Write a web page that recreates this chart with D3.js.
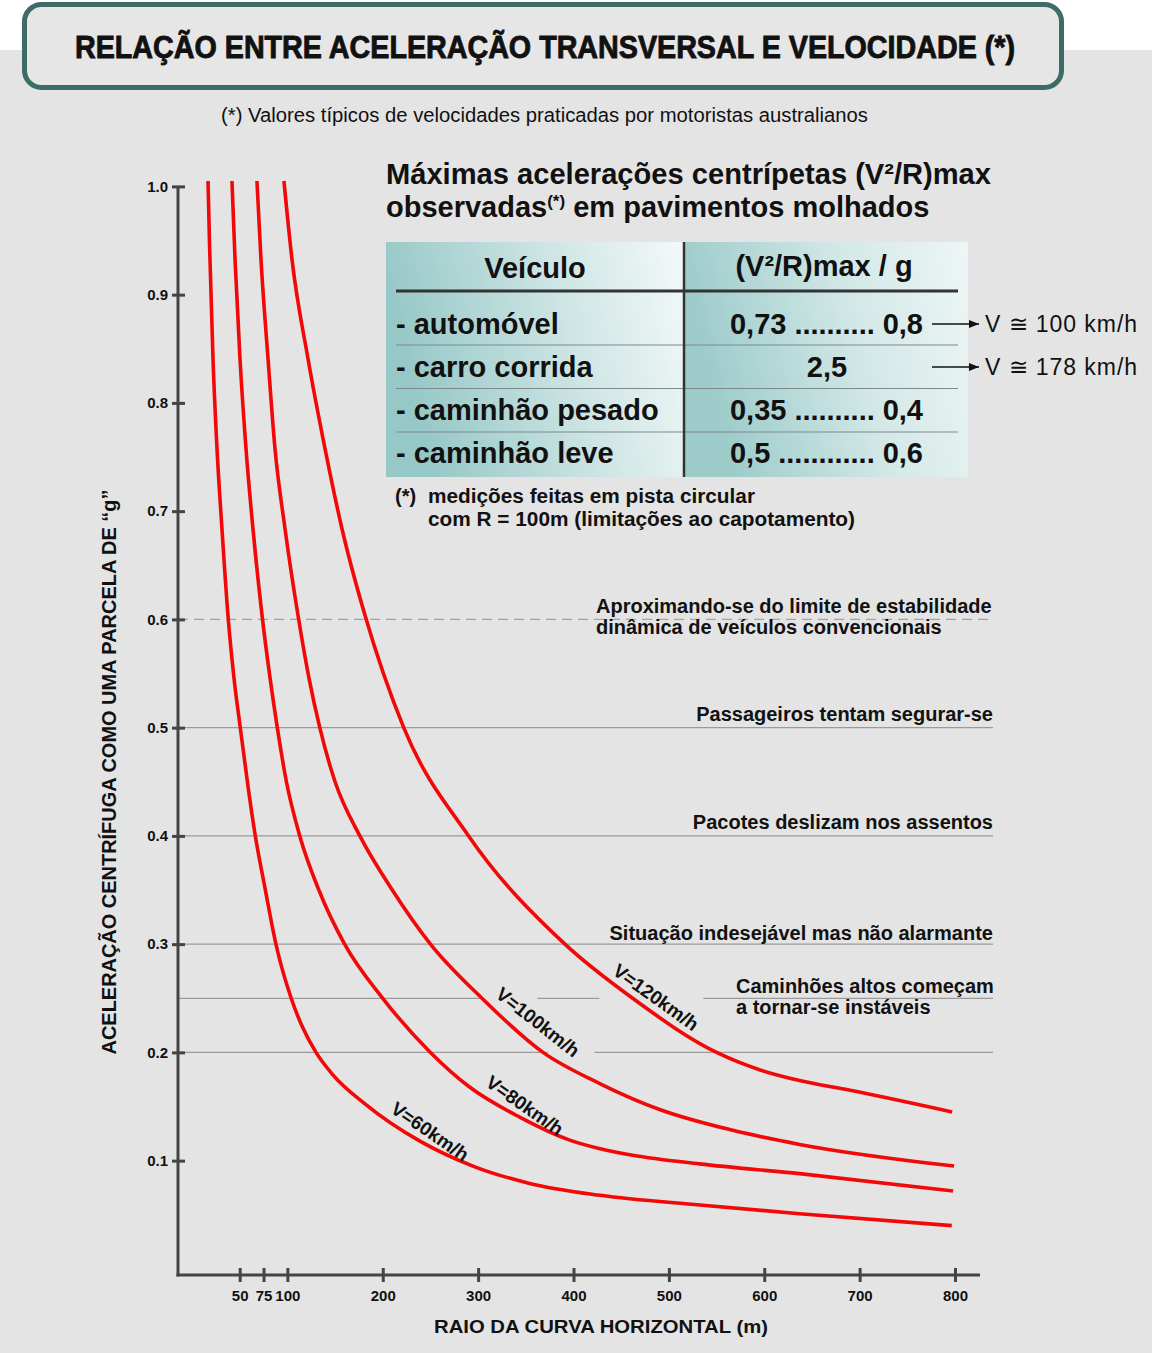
<!DOCTYPE html>
<html><head><meta charset="utf-8">
<script src="https://cdn.jsdelivr.net/npm/d3@7"></script>
<style>
body{margin:0;background:#fff}
svg{display:block}
text{font-family:"Liberation Sans",Arial,Helvetica,sans-serif;fill:#111}
</style>
</head><body>
<svg id="c" width="1152" height="1353"></svg>
<script>
// ---------------- DATA ----------------
const titleText = "RELAÇÃO ENTRE ACELERAÇÃO TRANSVERSAL E VELOCIDADE (*)";
const subtitleText = "(*) Valores típicos de velocidades praticadas por motoristas australianos";
const yAxisTitle = "ACELERAÇÃO CENTRÍFUGA COMO UMA PARCELA DE “g”";
const xAxisTitle = "RAIO DA CURVA HORIZONTAL (m)";
const yTicks = [0.1,0.2,0.3,0.4,0.5,0.6,0.7,0.8,0.9,1.0];
const xTicks = [50,75,100,200,300,400,500,600,700,800];

const speedLabels = ["V=60km/h","V=80km/h","V=100km/h","V=120km/h"];
// [raio (m), aceleração / g]
const v60 = [[16.8,1.005],[18.5,0.943],[22.0,0.841],[26.2,0.758],[31.4,0.684],[37.7,0.604],[44.0,0.546],[50.3,0.502],[59,0.444],[66.0,0.402],[76.5,0.352],[88,0.300],[104,0.250],[115,0.225],[130,0.200],[147,0.180],[182,0.152],[239,0.118],[294.5,0.095],[354,0.079],[427.7,0.068],[532.5,0.059],[637,0.051],[796.6,0.040]];
const v80 = [[41.9,1.005],[45.1,0.933],[50.3,0.841],[56.6,0.758],[63.9,0.684],[73.4,0.604],[81.8,0.546],[89.1,0.502],[99,0.450],[113,0.400],[133,0.350],[160,0.300],[200,0.250],[250,0.200],[291,0.168],[344,0.140],[396,0.119],[428,0.111],[462,0.105],[532,0.097],[637,0.088],[798,0.072]];
const v100 = [[68.1,1.005],[72.3,0.933],[79.7,0.841],[87.0,0.758],[97.5,0.684],[111.1,0.604],[122.6,0.546],[134,0.500],[150,0.450],[176,0.400],[210,0.350],[250,0.300],[304,0.250],[368,0.200],[428,0.171],[491,0.147],[567,0.128],[637,0.115],[799,0.095]];
const v120 = [[96.4,1.005],[104.8,0.933],[121.6,0.841],[139.4,0.758],[157.2,0.684],[181.3,0.604],[222,0.500],[290,0.400],[391,0.300],[462,0.250],[550,0.200],[595,0.184],[637,0.174],[690,0.165],[797,0.145]];

const levelValues = [0.6,0.5,0.4,0.3,0.25,0.2];
const levelTexts = [
  ["Aproximando-se do limite de estabilidade","dinâmica de veículos convencionais"],
  ["Passageiros tentam segurar-se"],
  ["Pacotes deslizam nos assentos"],
  ["Situação indesejável mas não alarmante"],
  ["Caminhões altos começam","a tornar-se instáveis"],
  []
];

const headingLine1 = "Máximas acelerações centrípetas (V²/R)max";
const headingLine2a = "observadas";
const headingLine2sup = "(*)";
const headingLine2b = " em pavimentos molhados";
const tableHeaders = ["Veículo","(V²/R)max / g"];
const vehicles = ["- automóvel","- carro corrida","- caminhão pesado","- caminhão leve"];
const ratios = ["0,73 .......... 0,8","2,5","0,35 .......... 0,4","0,5 ............ 0,6"];
const speedNotes = ["V ≅ 100 km/h","V ≅ 178 km/h"];
const footnote = ["(*)","medições feitas em pista circular","com R = 100m (limitações ao capotamento)"];

// ---------------- LAYOUT ----------------
const svg = d3.select("#c");
const W = 1152, H = 1353;
const AX = 178, AY = 1275, RIGHT = 993;
const x = d3.scaleLinear().domain([0,800]).range([192,955]);
const y = d3.scaleLinear().domain([0,1]).range([1268.9,186.4]);
const RED = "#f20808";
const AXC = "#444";

svg.append("rect").attr("width",W).attr("height",H).attr("fill","#ffffff");
svg.append("rect").attr("y",50).attr("width",W).attr("height",H-50).attr("fill","#e4e4e4");

// title box
svg.append("rect").attr("x",24.5).attr("y",4.5).attr("width",1037).attr("height",83)
  .attr("rx",17).attr("fill","#e6e6e6").attr("stroke","#3d6b68").attr("stroke-width",5);
svg.append("text").attr("x",75).attr("y",58)
  .attr("textLength",940).attr("lengthAdjust","spacingAndGlyphs")
  .style("font-weight","bold").style("font-size","32px")
  .style("stroke","#111").style("stroke-width","0.9px").text(titleText);

svg.append("text").attr("x",221).attr("y",122)
  .attr("textLength",647).attr("lengthAdjust","spacingAndGlyphs")
  .style("font-size","20px").text(subtitleText);

// gridlines
const gaps = {0.25: [[305,362],[427,536]], 0.2: [[373,422]]};
const gridG = svg.append("g");
levelValues.forEach(v => {
  const segs = [];
  let start = AX;
  (gaps[v]||[]).forEach(g => { segs.push([start, x(g[0])]); start = x(g[1]); });
  segs.push([start, RIGHT]);
  segs.forEach(s => {
    gridG.append("line").attr("x1",s[0]).attr("x2",s[1]).attr("y1",y(v)).attr("y2",y(v))
      .attr("stroke", v===0.6 ? "#a3a3a3" : "#9a9a9a").attr("stroke-width",1.3)
      .attr("stroke-dasharray", v===0.6 ? "10,6" : null);
  });
});

// level annotations
const annoLayout = [
  {anchor:"start", x:596, dy:[-6,15]},
  {anchor:"end", x:RIGHT, dy:[-7]},
  {anchor:"end", x:RIGHT, dy:[-7]},
  {anchor:"end", x:RIGHT, dy:[-4]},
  {anchor:"start", x:736, dy:[-5,16]},
  null
];
levelValues.forEach((v,i) => {
  const L = annoLayout[i]; if (!L) return;
  levelTexts[i].forEach((t,j) => {
    svg.append("text").attr("x",L.x).attr("y",y(v)+L.dy[j]).attr("text-anchor",L.anchor)
      .style("font-weight","bold").style("font-size","20px").text(t);
  });
});

// axes
const yAxis = d3.axisLeft(y).tickValues(yTicks).tickFormat(d3.format(".1f")).tickSize(6).tickPadding(4);
const gy = svg.append("g").attr("transform",`translate(${AX},0)`).call(yAxis);
gy.select(".domain").remove();
gy.selectAll(".tick line").attr("x1",7).attr("x2",-6).attr("stroke",AXC).attr("stroke-width",3);
gy.selectAll(".tick text").attr("fill","#111").style("font-family","'Liberation Sans',Arial,sans-serif")
  .style("font-weight","bold").style("font-size","15px");

const xAxis = d3.axisBottom(x).tickValues(xTicks).tickFormat(d3.format("d")).tickSize(7).tickPadding(8);
const gx = svg.append("g").attr("transform",`translate(0,${AY})`).call(xAxis);
gx.select(".domain").remove();
gx.selectAll(".tick line").attr("y1",-7).attr("y2",7).attr("stroke",AXC).attr("stroke-width",3);
gx.selectAll(".tick text").attr("fill","#111").style("font-family","'Liberation Sans',Arial,sans-serif")
  .style("font-weight","bold").style("font-size","15px");

svg.append("line").attr("x1",AX).attr("x2",AX).attr("y1",y(1)).attr("y2",AY+1.5).attr("stroke",AXC).attr("stroke-width",3);
svg.append("line").attr("x1",AX-1.5).attr("x2",980).attr("y1",AY).attr("y2",AY).attr("stroke",AXC).attr("stroke-width",3);

svg.append("text").attr("transform","translate(116,772) rotate(-90)").attr("text-anchor","middle")
  .attr("textLength",565).attr("lengthAdjust","spacingAndGlyphs")
  .style("font-weight","bold").style("font-size","20px").text(yAxisTitle);
svg.append("text").attr("x",601).attr("y",1333).attr("text-anchor","middle")
  .attr("textLength",334).attr("lengthAdjust","spacingAndGlyphs")
  .style("font-weight","bold").style("font-size","19px").text(xAxisTitle);

// curves
const line = d3.line().x(d=>x(d[0])).y(d=>y(d[1])).curve(d3.curveMonotoneX);
[v60,v80,v100,v120].forEach(s => {
  svg.append("path").attr("d",line(s)).attr("fill","none").attr("stroke",RED)
    .attr("stroke-width",3.6).attr("stroke-linecap","butt");
});

// curve labels
const labelLayout = [[249.5,0.127,34.5],[349,0.151,35],[362.7,0.228,38],[486.4,0.251,35.6]];
speedLabels.forEach((t,i) => {
  const L = labelLayout[i];
  svg.append("text").attr("transform",`translate(${x(L[0])},${y(L[1])}) rotate(${L[2]})`)
    .attr("text-anchor","middle").attr("dy","0.35em")
    .style("font-weight","bold").style("font-size","19px").text(t);
});

// heading
svg.append("text").attr("x",386).attr("y",184).attr("textLength",605).attr("lengthAdjust","spacingAndGlyphs")
  .style("font-weight","bold").style("font-size","29px").text(headingLine1);
const h2 = svg.append("text").attr("x",386).attr("y",217).style("font-weight","bold").style("font-size","29px");
h2.append("tspan").text(headingLine2a);
h2.append("tspan").attr("dy",-10).style("font-size","17px").text(headingLine2sup);
h2.append("tspan").attr("dy",10).text(headingLine2b);

// table
const defs = svg.append("defs");
const g1 = defs.append("linearGradient").attr("id","g1").attr("x1","0").attr("x2","1").attr("y1","0.2").attr("y2","0");
g1.append("stop").attr("offset","0").attr("stop-color","#96c8c7");
g1.append("stop").attr("offset","0.55").attr("stop-color","#cde5e4");
g1.append("stop").attr("offset","1").attr("stop-color","#f4f9f9");
const g2 = defs.append("linearGradient").attr("id","g2").attr("x1","0").attr("x2","1").attr("y1","0.2").attr("y2","0");
g2.append("stop").attr("offset","0").attr("stop-color","#9ccbca");
g2.append("stop").attr("offset","0.55").attr("stop-color","#d2e8e7");
g2.append("stop").attr("offset","1").attr("stop-color","#eef6f6");
defs.append("marker").attr("id","arr").attr("viewBox","0 0 10 8").attr("refX",10).attr("refY",4)
  .attr("markerWidth",10).attr("markerHeight",8).attr("markerUnits","userSpaceOnUse").attr("orient","auto")
  .append("path").attr("d","M0,0 L10,4 L0,8 Z").attr("fill","#111");

const TX0 = 386, TX1 = 968, TDIV = 684, TY0 = 242, TY1 = 477;
svg.append("rect").attr("x",TX0).attr("y",TY0).attr("width",TDIV-TX0).attr("height",TY1-TY0).attr("fill","url(#g1)");
svg.append("rect").attr("x",TDIV).attr("y",TY0).attr("width",TX1-TDIV).attr("height",TY1-TY0).attr("fill","url(#g2)");
svg.append("line").attr("x1",396).attr("x2",958).attr("y1",291).attr("y2",291).attr("stroke","#333").attr("stroke-width",3);
const rowLineY = [345,388.5,432];
rowLineY.forEach(yy => svg.append("line").attr("x1",396).attr("x2",958).attr("y1",yy).attr("y2",yy).attr("stroke","#7d8a8a").attr("stroke-width",1.2));
svg.append("line").attr("x1",TDIV).attr("x2",TDIV).attr("y1",TY0).attr("y2",TY1).attr("stroke","#333").attr("stroke-width",2.5);

svg.append("text").attr("x",535).attr("y",278).attr("text-anchor","middle").style("font-weight","bold").style("font-size","29px").text(tableHeaders[0]);
svg.append("text").attr("x",824).attr("y",276).attr("text-anchor","middle").style("font-weight","bold").style("font-size","29px").text(tableHeaders[1]);

const rowBase = [334,377,420,463];
vehicles.forEach((t,i) => {
  svg.append("text").attr("x",396).attr("y",rowBase[i]).style("font-weight","bold").style("font-size","29px").text(t);
});
ratios.forEach((t,i) => {
  const tx = svg.append("text").attr("y",rowBase[i]).style("font-weight","bold").style("font-size","29px").text(t);
  if (t.length < 6) tx.attr("x",827).attr("text-anchor","middle");
  else tx.attr("x",730).attr("textLength",193).attr("lengthAdjust","spacing");
});
speedNotes.forEach((t,i) => {
  const yy = rowBase[i] - 10;
  svg.append("line").attr("x1",932).attr("x2",979).attr("y1",yy).attr("y2",yy)
    .attr("stroke","#111").attr("stroke-width",1.6).attr("marker-end","url(#arr)");
  svg.append("text").attr("x",985).attr("y",rowBase[i]-2).attr("textLength",152).attr("lengthAdjust","spacing")
    .style("font-size","23px").text(t);
});

// footnote
svg.append("text").attr("x",395).attr("y",503).style("font-weight","bold").style("font-size","20px").text(footnote[0]);
svg.append("text").attr("x",428).attr("y",503).attr("textLength",327).attr("lengthAdjust","spacingAndGlyphs")
  .style("font-weight","bold").style("font-size","20px").text(footnote[1]);
svg.append("text").attr("x",428).attr("y",526).attr("textLength",427).attr("lengthAdjust","spacingAndGlyphs")
  .style("font-weight","bold").style("font-size","20px").text(footnote[2]);
</script>
</body></html>
